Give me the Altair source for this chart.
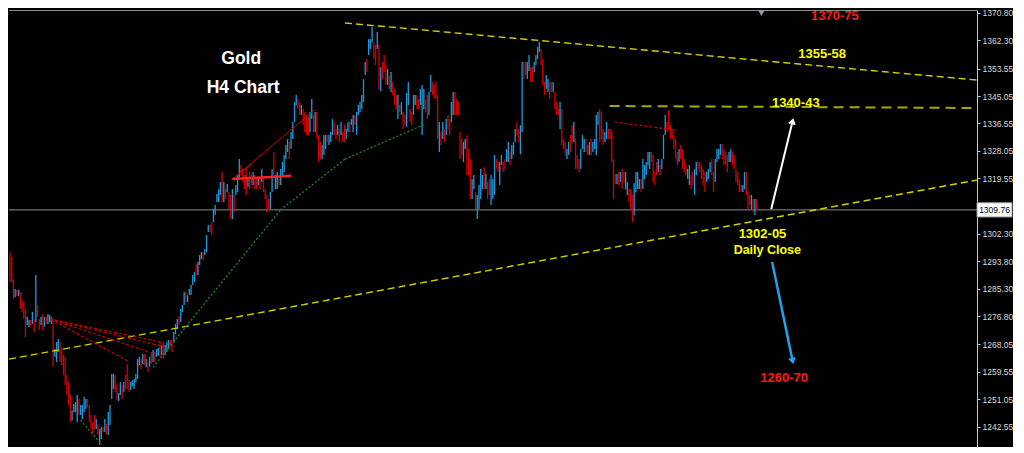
import altair as alt
import pandas as pd

# ---------------- data (Gold, H4 bars, oldest first) ----------------
opens = [
    1296.7, 1295.2, 1288.3, 1282.7, 1285.0, 1283.0, 1284.3, 1281.8, 1281.2, 1279.0,
    1274.1, 1273.4, 1275.6, 1274.4, 1275.9, 1275.0, 1280.3, 1275.9, 1274.1, 1277.5,
    1273.5, 1276.6, 1274.4, 1275.0, 1274.4, 1275.9, 1264.2, 1262.6, 1265.7, 1268.8,
    1267.2, 1264.8, 1264.2, 1258.6, 1256.4, 1252.4, 1244.5, 1247.1, 1247.1, 1244.0,
    1251.1, 1246.2, 1244.9, 1247.1, 1248.0, 1251.1, 1249.3, 1246.2, 1244.0, 1246.2,
    1241.8, 1243.4, 1236.9, 1238.7, 1242.4, 1240.9, 1243.4, 1240.0, 1243.1, 1251.1,
    1254.2, 1258.6, 1255.8, 1250.5, 1252.4, 1255.5, 1253.3, 1258.6, 1262.0, 1257.0,
    1253.9, 1255.0, 1254.2, 1256.4, 1257.3, 1261.7, 1263.5, 1262.0, 1265.1, 1261.0,
    1262.6, 1261.1, 1265.7, 1262.6, 1265.7, 1264.2, 1264.5, 1268.8, 1264.8, 1268.8,
    1264.8, 1265.7, 1266.6, 1269.4, 1268.8,
    1268.8, 1271.3, 1272.8, 1276.6, 1275.0, 1278.1, 1280.3, 1284.3, 1281.2, 1283.4,
    1283.4, 1286.5, 1287.4, 1293.0, 1289.6, 1292.7, 1294.5, 1296.7, 1295.8, 1296.7,
    1302.9, 1305.1, 1306.0, 1306.0, 1308.2, 1312.2, 1312.2, 1314.4, 1321.5, 1312.2,
    1316.2, 1315.3, 1315.3, 1314.4, 1306.9, 1314.4, 1314.4, 1315.3, 1319.3, 1323.7,
    1322.4, 1320.6, 1322.4, 1316.9, 1321.5, 1320.6, 1317.5, 1320.6, 1319.3, 1317.5,
    1320.0, 1318.4, 1319.3, 1316.2, 1314.4, 1313.1, 1310.0, 1315.3, 1327.7, 1316.2,
    1316.2, 1319.3, 1317.5, 1320.6, 1321.5, 1325.5, 1327.7, 1330.8, 1328.6, 1331.7,
    1337.0, 1342.3, 1344.1, 1343.2, 1339.2, 1341.0, 1340.1, 1339.2, 1338.6, 1333.9,
    1337.9, 1339.2, 1333.9, 1340.1, 1332.9, 1330.8, 1325.5, 1326.8, 1328.6, 1333.0,
    1329.9, 1330.8, 1333.0, 1337.0, 1334.8, 1333.0, 1334.8, 1333.0, 1333.9, 1336.1,
    1331.7, 1333.9, 1337.0, 1336.1, 1333.9, 1339.2, 1333.0, 1339.2, 1340.1, 1341.0,
    1343.2, 1351.6, 1356.5, 1357.8, 1359.6, 1361.8, 1361.8, 1360.9, 1359.6, 1361.0,
    1346.5, 1355.6, 1357.8, 1354.7, 1348.5, 1351.6, 1346.3, 1349.4, 1347.2, 1345.4,
    1337.9, 1342.3, 1339.2, 1340.1, 1339.2, 1335.5, 1342.3, 1341.0, 1340.1, 1339.2,
    1342.3, 1345.4, 1344.1, 1342.3, 1333.0, 1341.0, 1344.1, 1345.4, 1339.2, 1346.3,
    1349.4, 1348.5, 1349.4, 1345.4, 1327.7, 1333.9, 1331.7, 1334.8, 1333.0, 1339.2,
    1337.9, 1337.0, 1339.2, 1346.3, 1344.1, 1343.2, 1333.9, 1331.7, 1324.6, 1328.6,
    1332.9, 1328.6, 1325.5, 1313.1, 1316.2, 1315.3, 1306.9, 1310.0, 1313.1, 1316.2,
    1323.0, 1316.2, 1318.4, 1319.3, 1311.3, 1313.1, 1314.4, 1325.5, 1324.6, 1317.5,
    1323.7, 1324.6, 1325.5, 1324.6, 1324.6, 1327.7, 1325.5, 1326.8, 1330.8, 1337.0,
    1334.8, 1327.0, 1333.9, 1355.6, 1355.6, 1350.3, 1352.8, 1354.1, 1354.1, 1352.5,
    1354.7, 1356.5, 1358.7, 1359.6, 1356.5, 1349.4, 1347.2, 1346.3, 1349.4, 1349.4,
    1346.3, 1346.3, 1343.2, 1341.0, 1334.8, 1341.0, 1331.7, 1330.8, 1325.5, 1326.8,
    1333.0, 1336.1, 1330.8, 1331.7, 1326.8, 1325.5, 1322.4, 1328.6, 1327.7, 1331.7,
    1329.9, 1326.8, 1331.7, 1327.7, 1328.6, 1326.8, 1336.1, 1341.0, 1340.1, 1334.8,
    1330.8, 1331.7, 1334.8, 1334.8, 1333.9, 1325.5, 1320.9, 1317.8, 1321.5, 1318.4,
    1322.4, 1321.5, 1316.2, 1314.4, 1316.2, 1316.2, 1314.4, 1308.0, 1315.3, 1316.2,
    1316.2, 1319.3, 1316.2, 1319.3, 1320.6, 1323.7, 1322.4, 1327.7, 1326.8, 1321.5,
    1324.6, 1321.5, 1323.7, 1322.4, 1325.5, 1333.0, 1337.0, 1340.7, 1336.1, 1334.8,
    1333.0, 1331.7, 1327.7, 1324.6, 1329.9, 1328.6, 1325.5, 1323.7, 1319.3, 1317.5,
    1320.6, 1321.5, 1314.4, 1320.6, 1324.6, 1324.6, 1323.7, 1322.4, 1321.5, 1318.4,
    1319.3, 1321.5, 1325.5, 1321.5, 1318.4, 1324.6, 1325.5, 1326.8, 1330.2, 1328.6,
    1327.7, 1326.8, 1324.6, 1324.6, 1327.7, 1326.8, 1322.4, 1321.5, 1319.3, 1317.5,
    1315.3, 1316.2, 1321.5, 1315.3, 1314.4, 1310.0, 1313.1, 1308.2, 1313.1,
]

closes = [
    1287.4, 1287.4, 1282.1, 1285.2, 1283.0, 1285.0, 1279.0, 1278.1, 1276.0, 1270.3,
    1276.6, 1275.6, 1273.8, 1278.1, 1271.9, 1289.6, 1276.6, 1272.5, 1276.6, 1272.5,
    1276.6, 1274.4, 1277.5, 1277.2, 1276.6, 1261.1, 1266.6, 1268.8, 1269.7, 1262.6,
    1261.7, 1258.6, 1255.5, 1252.4, 1249.3, 1244.0, 1247.5, 1249.6, 1250.2, 1252.4,
    1246.2, 1249.3, 1249.3, 1251.8, 1251.1, 1248.5, 1244.0, 1241.8, 1240.3, 1241.8,
    1244.9, 1240.0, 1241.8, 1242.4, 1240.9, 1244.9, 1240.3, 1247.1, 1249.3, 1258.9,
    1258.9, 1253.3, 1250.8, 1253.0, 1256.4, 1251.1, 1256.4, 1254.2, 1254.2, 1253.3,
    1256.4, 1257.0, 1257.3, 1258.9, 1263.5, 1264.2, 1260.4, 1265.1, 1261.7, 1263.5,
    1259.5, 1264.2, 1262.0, 1266.3, 1262.6, 1266.6, 1267.0, 1264.2, 1267.9, 1263.5,
    1267.9, 1268.8, 1269.4, 1267.5, 1265.7,
    1271.9, 1274.4, 1275.9, 1274.1, 1279.0, 1280.3, 1284.3, 1281.2, 1283.3, 1285.2,
    1286.5, 1289.6, 1290.5, 1289.6, 1293.6, 1295.8, 1296.7, 1294.2, 1297.6, 1302.0,
    1305.1, 1302.9, 1302.0, 1310.0, 1311.3, 1314.7, 1316.2, 1318.4, 1312.2, 1318.4,
    1313.1, 1317.8, 1310.0, 1306.9, 1316.2, 1309.1, 1317.5, 1320.6, 1325.5, 1320.6,
    1318.4, 1316.2, 1314.4, 1319.9, 1316.2, 1317.5, 1321.5, 1316.2, 1316.2, 1320.0,
    1316.2, 1322.4, 1315.3, 1313.1, 1309.1, 1309.7, 1315.3, 1322.4, 1320.6, 1320.6,
    1321.5, 1317.5, 1322.4, 1324.6, 1326.8, 1329.9, 1331.7, 1325.5, 1333.9, 1337.0,
    1343.2, 1345.4, 1341.0, 1339.2, 1342.3, 1336.1, 1333.9, 1333.0, 1333.0, 1340.1,
    1344.1, 1333.9, 1340.1, 1331.7, 1324.6, 1325.5, 1329.9, 1333.0, 1333.0, 1330.8,
    1333.0, 1333.9, 1337.9, 1333.0, 1331.7, 1336.1, 1330.8, 1337.0, 1330.8, 1330.8,
    1334.8, 1337.0, 1333.9, 1337.9, 1339.2, 1336.1, 1340.1, 1342.3, 1343.2, 1345.4,
    1350.3, 1355.6, 1352.5, 1362.7, 1362.7, 1366.5, 1356.5, 1354.7, 1364.9, 1347.0,
    1354.0, 1350.3, 1352.5, 1348.5, 1353.4, 1347.2, 1352.5, 1345.4, 1342.3, 1341.0,
    1345.4, 1340.1, 1343.2, 1334.8, 1336.1, 1346.0, 1349.4, 1337.0, 1336.1, 1345.4,
    1345.4, 1341.0, 1341.0, 1347.2, 1348.5, 1347.2, 1340.1, 1337.9, 1346.3, 1351.6,
    1345.4, 1344.1, 1344.1, 1331.7, 1337.0, 1329.9, 1337.0, 1330.8, 1337.9, 1334.8,
    1333.0, 1343.2, 1346.3, 1339.2, 1339.2, 1339.2, 1325.5, 1326.8, 1330.8, 1331.7,
    1320.6, 1320.6, 1313.1, 1319.3, 1320.6, 1310.0, 1314.4, 1317.5, 1322.4, 1320.6,
    1316.2, 1320.9, 1313.1, 1314.4, 1320.6, 1319.3, 1326.8, 1322.4, 1321.5, 1324.6,
    1326.8, 1321.5, 1322.4, 1328.6, 1330.8, 1323.7, 1329.9, 1330.8, 1334.8, 1333.0,
    1330.8, 1336.0, 1355.6, 1350.3, 1351.6, 1355.6, 1357.8, 1349.4, 1349.4, 1355.6,
    1357.8, 1360.3, 1361.8, 1354.7, 1348.5, 1345.4, 1351.6, 1350.3, 1344.1, 1346.3,
    1349.4, 1341.0, 1339.2, 1339.2, 1343.2, 1329.9, 1328.6, 1326.8, 1328.6, 1330.8,
    1327.7, 1330.8, 1337.0, 1322.4, 1322.4, 1321.5, 1328.6, 1333.0, 1331.7, 1327.7,
    1326.8, 1330.8, 1326.8, 1330.8, 1331.7, 1339.2, 1340.1, 1330.8, 1331.7, 1329.9,
    1333.9, 1337.0, 1331.7, 1331.7, 1324.6, 1313.1, 1317.8, 1320.9, 1317.5, 1321.5,
    1316.2, 1318.4, 1321.5, 1318.4, 1312.2, 1310.0, 1306.0, 1318.0, 1321.5, 1321.5,
    1319.3, 1315.3, 1325.5, 1323.7, 1324.6, 1327.7, 1327.7, 1324.6, 1318.4, 1317.5,
    1320.6, 1325.5, 1320.6, 1325.5, 1333.0, 1339.2, 1333.9, 1334.5, 1331.7, 1331.7,
    1328.6, 1325.5, 1323.7, 1328.6, 1325.5, 1322.4, 1321.5, 1320.6, 1322.4, 1323.7,
    1316.2, 1317.5, 1322.4, 1324.6, 1322.4, 1321.5, 1319.3, 1317.5, 1315.3, 1321.5,
    1322.4, 1324.6, 1320.6, 1315.3, 1325.5, 1328.6, 1328.6, 1330.2, 1325.5, 1323.7,
    1323.7, 1321.5, 1327.7, 1328.6, 1323.7, 1322.4, 1318.4, 1317.5, 1315.3, 1315.3,
    1317.5, 1321.5, 1314.4, 1310.0, 1311.3, 1314.4, 1309.1, 1313.1, 1309.8,
]

tick_values = [1370.80, 1362.30, 1353.55, 1345.05, 1336.55, 1328.05, 1319.55,
               1302.30, 1293.80, 1285.30, 1276.80, 1268.05, 1259.55,
               1251.05, 1242.55]
last_price = 1309.76

# drawn objects: (bar index, price) end points
yellow_k1 = [195.3, 0.43]
yellow_p1 = [1367.7, 1263.5]
yellow_k2 = [561.8, 561.8]
yellow_p2 = [1350.0, 1319.0]

mid_k1 = [348.7]
mid_p1 = [1341.96]
mid_k2 = [561.8]
mid_p2 = [1341.34]

fan_k1 = [24.3, 24.3, 24.3, 24.3, 351.6]
fan_p1 = [1275.9, 1275.9, 1275.9, 1275.9, 1337.0]
fan_k2 = [70.3, 81.7, 88.5, 91.3, 386.8]
fan_p2 = [1262.6, 1265.7, 1268.8, 1267.2, 1334.5]

red_k1 = [130.0, 130.0]
red_p1 = [1319.3, 1319.3]
red_k2 = [178.3, 141.4]
red_p2 = [1341.0, 1324.0]

redbold_k1 = [130.0]
redbold_p1 = [1319.3]
redbold_k2 = [164.1]
redbold_p2 = [1320.3]

green_k1 = [41.9, 84.0, 157.8, 195.3]
green_p1 = [1244.6, 1261.0, 1309.7, 1325.5]
green_k2 = [54.4, 157.8, 195.3, 240.8]
green_p2 = [1236.9, 1309.7, 1325.5, 1336.1]

white_arrow = {"k1": [442.5], "p1": [1310.0], "k2": [455.0], "p2": [1337.6]}
blue_arrow = {"k1": [443.0], "p1": [1293.6], "k2": [455.0], "p2": [1262.6]}

label_text = ["Gold", "H4 Chart", "1370-75", "1355-58", "1340-43",
              "1302-05", "Daily Close", "1260-70"]
label_k = [135.1, 136.2, 479.4, 472.0, 456.7, 437.4, 440.2, 449.9]
label_p = [1356.5, 1347.5, 1369.9, 1358.1, 1342.9, 1302.3, 1297.3, 1257.6]
label_color = ["#ffffff", "#ffffff", "#ff1a1a", "#ffff00", "#ffff00",
               "#ffff00", "#ffff00", "#ff1a1a"]
label_size = [17.5, 17.5, 13, 13, 13, 13, 12.5, 13]

# ---------------- chart ----------------
W, H = 968, 437
UP, DN = "#1E9BDF", "#D40000"
xs = alt.Scale(domain=[0.43, 561.8], nice=False, zero=False)
ys = alt.Scale(domain=[1236.25, 1371.72], nice=False, zero=False)
yaxis = alt.Axis(orient="right", values=tick_values, format=".2f", title=None,
                 grid=False, domainColor="#c8c8c8", tickColor="#c8c8c8",
                 tickSize=3, labelColor="#dcdcdc", labelFont="Liberation Sans",
                 labelFontSize=8.5, labelPadding=2, labelFlush=False,
                 labelOverlap=False)


def X(f):
    return alt.X(f, scale=xs, axis=None)


def Y(f):
    return alt.Y(f, scale=ys, axis=yaxis)


def segs(k1, p1, k2, p2, color, width, dash=None):
    df = pd.DataFrame({"k1": k1, "p1": p1, "k2": k2, "p2": p2})
    mk = dict(color=color, strokeWidth=width, clip=True)
    if dash:
        mk["strokeDash"] = dash
    return alt.Chart(df).mark_rule(**mk).encode(
        x=X("k1:Q"), y=Y("p1:Q"), x2="k2:Q", y2="p2:Q")


bars = pd.DataFrame({"k": list(range(1, len(opens) + 1)), "o": opens, "c": closes})

price_line = alt.Chart(pd.DataFrame({"p": [last_price]})).mark_rule(
    color="#8a8a8a", strokeWidth=1).encode(y=Y("p:Q"))

top_border = alt.Chart(pd.DataFrame({"a": [0]})).mark_rule(
    color="#8a8a8a", strokeWidth=1).encode(
    x=alt.value(0), x2=alt.value(W), y=alt.value(0.5))

candles = alt.Chart(bars).mark_rule(strokeWidth=1.3).encode(
    x=X("k:Q"), y=Y("o:Q"), y2="c:Q",
    color=alt.condition("datum.c >= datum.o", alt.value(UP), alt.value(DN)))

yellow = segs(yellow_k1, yellow_p1, yellow_k2, yellow_p2, "#d2d200", 1.4, [7, 4])
mid = segs(mid_k1, mid_p1, mid_k2, mid_p2, "#a6a600", 2, [10, 6])
fan = segs(fan_k1, fan_p1, fan_k2, fan_p2, "#cc0000", 1.2, [3, 2])
red_thin = segs(red_k1, red_p1, red_k2, red_p2, "#cc0000", 1)
red_bold = segs(redbold_k1, redbold_p1, redbold_k2, redbold_p2, "#ff2020", 2.5)
green = segs(green_k1, green_p1, green_k2, green_p2, "#1f8a1f", 1.3, [2, 2])
w_arrow = segs(**white_arrow, color="#ffffff", width=2)
b_arrow = segs(**blue_arrow, color="#22a2e8", width=2.5)

heads = alt.Chart(pd.DataFrame({
    "k": [white_arrow["k2"][0], blue_arrow["k2"][0]],
    "p": [white_arrow["p2"][0], blue_arrow["p2"][0]],
    "a": [13.6, 167.9],
    "col": ["#ffffff", "#22a2e8"],
})).mark_point(shape="M -0.6 0.9 L 0 0 L 0.6 0.9", filled=False, size=90,
               strokeWidth=2.2, opacity=1).encode(
    x=X("k:Q"), y=Y("p:Q"), angle=alt.Angle("a:Q", scale=None),
    color=alt.Color("col:N", scale=None))

labels = alt.Chart(pd.DataFrame({
    "t": label_text, "k": label_k, "p": label_p,
    "col": label_color, "fs": label_size,
})).mark_text(font="Liberation Sans", fontWeight="bold", align="center",
              baseline="middle").encode(
    x=X("k:Q"), y=Y("p:Q"), text="t:N",
    color=alt.Color("col:N", scale=None), size=alt.Size("fs:Q", scale=None))

price_box = alt.Chart(pd.DataFrame({"p": [last_price]})).transform_calculate(
    hi="datum.p + 2.2", lo="datum.p - 2.2").mark_rect(
    fill="#ffffff", stroke="#9a9a9a", strokeWidth=1, clip=False).encode(
    x=alt.value(W), x2=alt.value(W + 35), y=Y("hi:Q"), y2="lo:Q")

price_text = alt.Chart(pd.DataFrame({"p": [last_price]})).mark_text(
    color="#000000", font="Liberation Sans", fontSize=8.5, align="center",
    baseline="middle").encode(
    x=alt.value(W + 17.5), y=Y("p:Q"), text=alt.Text("p:Q", format=".2f"))

marker = alt.Chart(pd.DataFrame({"k": [436.8]})).mark_point(
    shape="triangle-down", filled=True, color="#8a9aaa", size=45, opacity=1).encode(
    x=X("k:Q"), y=alt.value(3))

chart = alt.layer(
    price_line, top_border, candles, yellow, mid, fan, red_thin, red_bold,
    green, w_arrow, b_arrow, heads, labels, price_box, price_text, marker,
).properties(width=W, height=H, padding=0, background="#000000").configure_view(
    stroke=None, fill="#000000")

chart.save("out.html", embed_options={"renderer": "svg", "actions": False})
